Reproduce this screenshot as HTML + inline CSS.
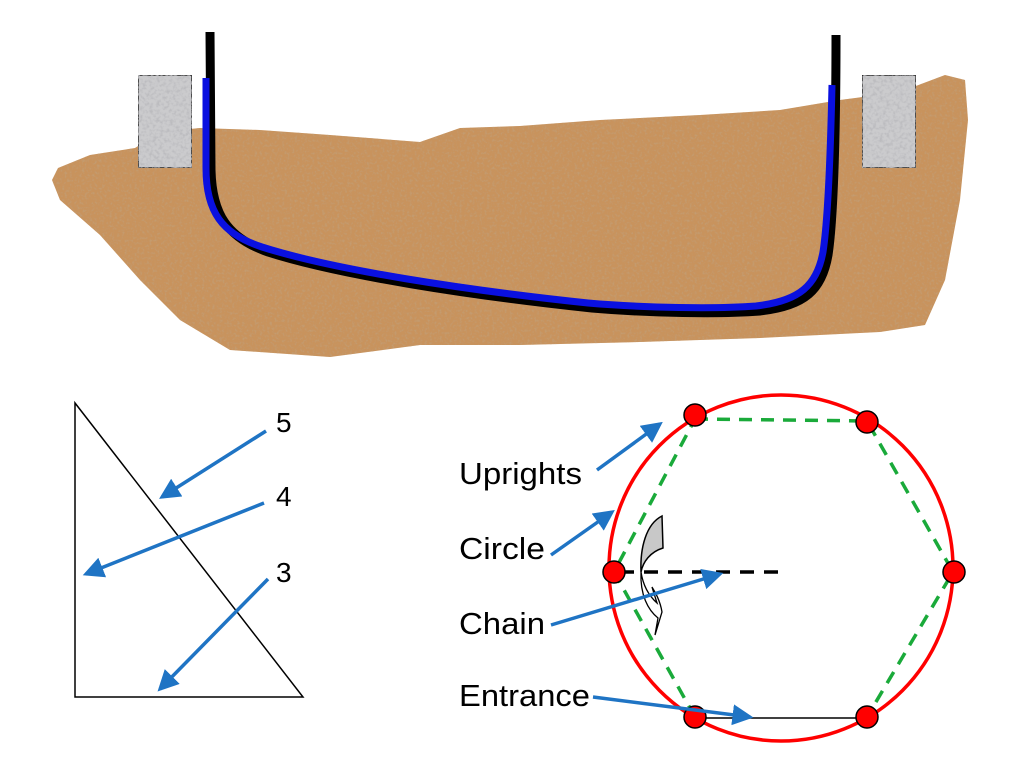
<!DOCTYPE html>
<html><head><meta charset="utf-8"><style>
html,body{margin:0;padding:0;background:#fff;width:1024px;height:768px;overflow:hidden}
svg text{font-family:"Liberation Sans",Arial,sans-serif;fill:#000}
</style></head><body>
<svg width="1024" height="768" viewBox="0 0 1024 768" xmlns="http://www.w3.org/2000/svg">
<defs>
<filter id="sand" x="0" y="0" width="100%" height="100%">
<feTurbulence type="fractalNoise" baseFrequency="0.4" numOctaves="2" seed="3" result="n"/>
<feColorMatrix in="n" type="matrix" values="0 0 0 0 0.55  0 0 0 0 0.33  0 0 0 0 0.16  3 0 0 0 -1.4" result="spk"/>
<feComposite in="spk" in2="SourceGraphic" operator="in" result="s2"/>
<feMerge><feMergeNode in="SourceGraphic"/><feMergeNode in="s2"/></feMerge>
</filter>
<filter id="stone" x="0" y="0" width="100%" height="100%">
<feTurbulence type="fractalNoise" baseFrequency="0.3" numOctaves="2" seed="7" result="n"/>
<feColorMatrix in="n" type="matrix" values="0 0 0 0 0.5  0 0 0 0 0.5  0 0 0 0 0.52  3 0 0 0 -1.3" result="spk"/>
<feComposite in="spk" in2="SourceGraphic" operator="in" result="s2"/>
<feMerge><feMergeNode in="SourceGraphic"/><feMergeNode in="s2"/></feMerge>
</filter>
<marker id="ah" markerWidth="6" markerHeight="6" refX="5" refY="3" orient="auto" markerUnits="strokeWidth">
<path d="M0,0 L6,3 L0,6 z" fill="#1f74c4"/>
</marker>
</defs>

<!-- sand -->
<path filter="url(#sand)" fill="#c8935d" d="M58,168 L90,155 L135,148 L160,132 L200,128 L260,130 L330,135 L420,142 L460,128 L520,126 L600,120 L700,115 L780,110 L840,100 L900,92 L945,75 L965,80 L968,120 L960,200 L945,280 L925,325 L880,332 L760,338 L640,342 L520,345 L420,345 L330,357 L230,350 L180,320 L140,280 L100,235 L60,200 L52,180 Z"/>

<!-- blocks -->
<rect x="138" y="75" width="54" height="93" fill="#cbcbcd" stroke="#222" stroke-width="1.5" filter="url(#stone)"/>
<rect x="862" y="75" width="54" height="93" fill="#cbcbcd" stroke="#222" stroke-width="1.5" filter="url(#stone)"/>

<!-- pipe -->
<path d="M210,32 L211,170 C212,215 228,238 268,252 C340,275 470,295 592,308 C650,313 720,314 760,311 C805,306 822,290 828,255 C834,215 836,120 836,35" fill="none" stroke="#000" stroke-width="9"/>
<path d="M206,78 L206,168 C206,212 222,234 262,247 C334,270 465,290 588,303 C646,308 716,309 756,306 C800,301 817,285 823,252 C829,213 831,130 832,85" fill="none" stroke="#0a10e0" stroke-width="7"/>

<!-- triangle -->
<path d="M75,403 L75,697 L303,697 Z" fill="none" stroke="#000" stroke-width="1.5"/>
<g stroke="#1f74c4" stroke-width="3.5" fill="none" marker-end="url(#ah)">
<line x1="266" y1="431" x2="162" y2="497"/>
<line x1="264" y1="503" x2="86" y2="574"/>
<line x1="268" y1="579" x2="160" y2="689"/>
</g>
<text x="276" y="432" font-size="28">5</text>
<text x="276" y="506" font-size="28">4</text>
<text x="276" y="582" font-size="28">3</text>

<!-- circle diagram -->
<ellipse cx="781" cy="568" rx="172" ry="173" fill="none" stroke="#f00" stroke-width="3.5"/>
<path d="M695,419 L867,421 L953,572 L867,717 M695,717 L614,572 L695,419" fill="none" stroke="#1aaa3a" stroke-width="3.5" stroke-dasharray="13,9"/>
<line x1="695" y1="718" x2="867" y2="718" stroke="#000" stroke-width="1.5"/>
<line x1="620" y1="572" x2="780" y2="572" stroke="#000" stroke-width="3.5" stroke-dasharray="14,10"/>
<!-- chain shape -->
<path d="M662,516 L663,548 C650,552 643,562 641,572 C640,548 646,524 662,516 Z" fill="#c8c8c8" stroke="#000" stroke-width="1.5"/>
<path d="M641,572 C640,595 648,610 658,618 L655,635 L662,612 C660,600 655,592 652,587 L657,603 C648,595 643,585 641,572" fill="#fff" stroke="#000" stroke-width="1.3"/>

<g stroke="#000" stroke-width="1.5" fill="#f00">
<circle cx="695" cy="415" r="11"/>
<circle cx="867" cy="422" r="11"/>
<circle cx="614" cy="572" r="11"/>
<circle cx="954" cy="572" r="11"/>
<circle cx="695" cy="717" r="11"/>
<circle cx="867" cy="717" r="11"/>
</g>

<g stroke="#1f74c4" stroke-width="3.5" fill="none" marker-end="url(#ah)">
<line x1="597" y1="470" x2="660" y2="424"/>
<line x1="551" y1="555" x2="612" y2="512"/>
<line x1="551" y1="625" x2="720" y2="574"/>
<line x1="593" y1="697" x2="750" y2="717"/>
</g>
<text x="459" y="484" font-size="31" textLength="123" lengthAdjust="spacingAndGlyphs">Uprights</text>
<text x="459" y="559" font-size="31" textLength="86" lengthAdjust="spacingAndGlyphs">Circle</text>
<text x="459" y="634" font-size="31" textLength="86" lengthAdjust="spacingAndGlyphs">Chain</text>
<text x="459" y="706" font-size="31" textLength="131" lengthAdjust="spacingAndGlyphs">Entrance</text>
</svg>
</body></html>
